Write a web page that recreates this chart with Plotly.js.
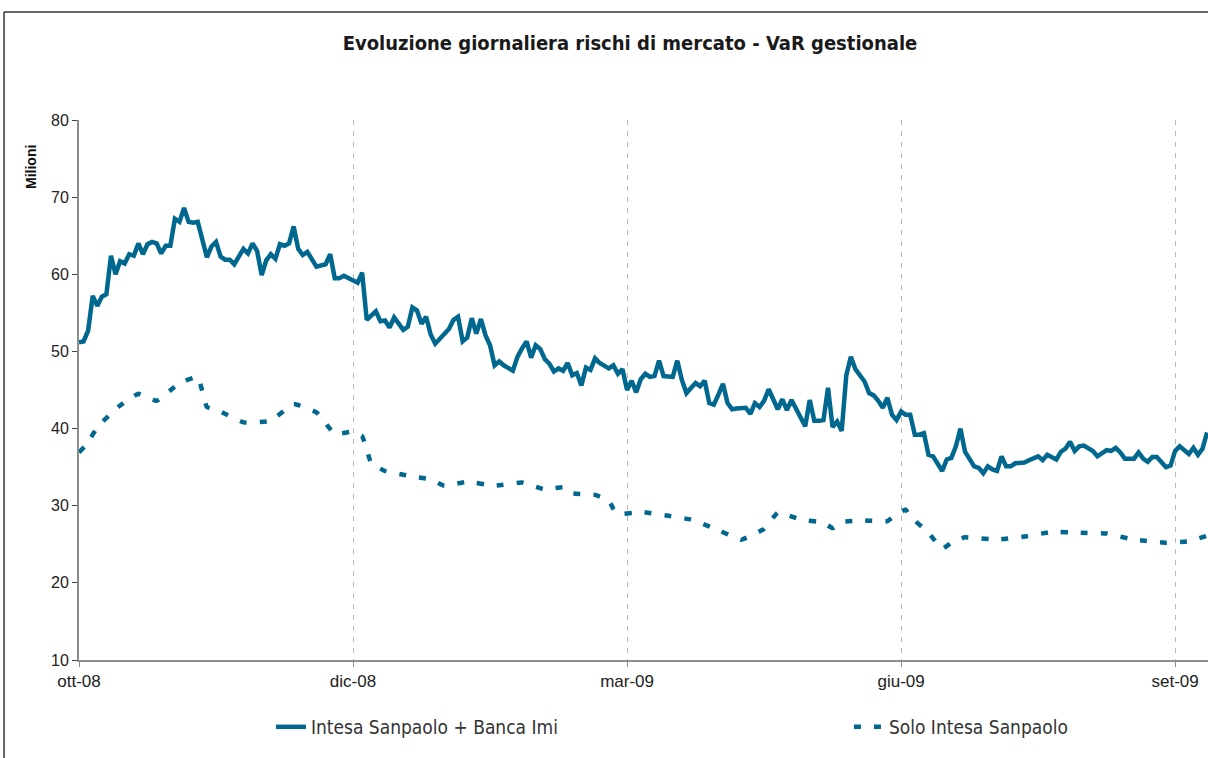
<!DOCTYPE html>
<html>
<head>
<meta charset="utf-8">
<script src="https://cdn.plot.ly/plotly-3.0.1.min.js"></script>
<style>
  html, body { margin: 0; padding: 0; background: #ffffff; }
  #chart { width: 1208px; height: 758px; }
</style>
</head>
<body>
<div id="chart"></div>
<script>
// ---- Data (trading-day index since start of October 2008, VaR in millions) ----
const tickDays = [0, 60, 120, 180, 240];
const tickLabels = ['ott-08', 'dic-08', 'mar-09', 'giu-09', 'set-09'];

const mainName = 'Intesa Sanpaolo + Banca Imi';
const mainDays = [
  0,1,2,3,4,5,6,7,8,9,
  10,11,12,13,14,15,16,17,18,19,
  20,21,22,23,24,25,26,28,29,30,
  31,32,33,34,36,37,38,39,40,41,
  42,43,44,45,46,47,48,49,50,51,
  52,54,55,56,57,58,60,61,62,63,
  65,66,67,68,69,70,71,72,73,74,
  75,76,77,78,79,80,81,82,83,84,
  85,86,87,88,89,90,91,92,93,95,
  96,97,98,99,100,101,102,103,104,105,
  106,107,108,109,110,111,112,113,114,116,
  117,118,119,120,121,122,123,124,125,126,
  127,128,130,131,132,133,134,135,136,137,
  138,139,140,141,142,143,144,146,147,148,
  149,150,151,152,153,154,155,156,157,158,
  159,160,161,162,163,164,165,166,167,168,
  169,170,171,172,173,174,175,176,177,178,
  179,180,181,182,183,184,185,186,187,188,
  189,190,191,192,193,194,195,196,197,198,
  199,200,201,202,203,204,205,207,208,210,
  211,212,214,215,216,217,218,219,220,222,
  223,224,225,226,227,228,229,230,231,232,
  233,234,235,236,238,239,240,241,242,243,
  244,245,246,247
];
const mainVaR = [
  51.2,51.3,52.7,57.2,55.9,57.1,57.4,62.4,60.0,61.7,
  61.4,62.6,62.4,64.0,62.6,63.9,64.2,64.0,62.7,63.7,
  63.7,67.2,66.8,68.6,66.8,66.7,66.8,62.2,63.6,64.2,
  62.3,61.9,61.9,61.3,63.3,62.7,64.0,63.0,59.9,61.8,
  62.6,62.0,63.9,63.7,64.0,66.2,63.3,62.5,62.9,61.9,
  61.0,61.3,62.6,59.5,59.5,59.8,59.2,58.9,60.2,54.1,
  55.2,53.9,54.0,53.1,54.4,53.5,52.8,53.2,55.7,55.3,
  53.6,54.5,52.2,51.0,51.6,52.2,52.9,54.1,54.5,51.3,
  51.8,54.3,52.3,54.2,52.1,50.8,48.2,48.7,48.2,47.5,
  49.3,50.4,51.3,49.2,50.8,50.3,49.0,48.4,47.4,47.8,
  47.5,48.5,46.9,47.2,45.6,47.9,47.6,49.1,48.5,47.8,
  48.2,47.1,47.7,45.0,46.2,44.7,46.4,47.1,46.7,46.8,
  48.8,46.8,46.7,48.8,46.3,44.6,45.2,45.9,45.5,46.2,
  43.3,43.1,44.4,45.8,43.3,42.5,42.6,42.7,41.9,43.3,
  42.8,43.6,45.1,43.7,42.5,43.8,42.4,43.7,42.5,41.3,
  40.3,43.7,41.0,41.0,41.1,45.3,40.2,40.9,39.7,46.9,
  49.3,47.7,46.9,46.1,44.6,44.3,43.6,42.7,44.0,41.8,
  41.1,42.2,41.8,41.8,39.2,39.2,39.4,36.6,36.4,35.4,
  34.5,36.0,36.2,37.7,40.0,37.0,36.1,35.1,34.9,34.2,
  35.1,34.7,34.5,36.4,35.1,35.1,35.5,35.6,35.9,36.4,
  35.9,36.6,36.0,37.0,37.4,38.3,37.1,37.7,37.8,37.1,
  36.4,36.8,37.2,37.1,37.5,36.9,36.1,36.1,36.1,36.9,
  36.1,35.7,36.3,36.3,35.0,35.2,37.1,37.7,37.2,36.7,
  37.5,36.6,37.4,39.5
];

const soloName = 'Solo Intesa Sanpaolo';
const soloDays = [
  0,2,4,9,13,17,22,26,28,31,
  36,42,47,52,56,60,62,64,67,72,
  77,80,85,91,97,102,106,108,113,116,
  117,118,123,129,134,139,145,150,153,158,
  163,165,167,172,177,179,181,182,186,189,
  191,194,201,207,213,219,225,231,238,243,
  247
];
const soloVaR = [
  36.9,38.2,40.2,43.0,44.5,43.6,45.9,46.7,42.8,42.2,
  40.8,41.0,43.2,42.1,39.3,39.6,39.0,35.5,34.5,33.9,
  33.4,32.6,33.1,32.6,33.0,32.1,32.4,31.6,31.4,30.7,
  29.6,28.9,29.2,28.7,28.2,27.1,25.6,27.0,29.1,28.2,
  27.8,27.1,27.9,28.1,28.0,28.9,29.5,28.6,26.5,24.4,
  25.2,25.9,25.6,26.0,26.6,26.5,26.4,25.6,25.2,25.4,
  26.1
];

// ---- Styling ----
const lineColor = '#00688F';
const fontMain = 'Liberation Sans, Arial, sans-serif';
const fontNarrow = 'Liberation Sans Narrow, DejaVu Sans Condensed, Liberation Sans, sans-serif';

const traces = [
  {
    type: 'scatter', mode: 'lines', name: mainName,
    x: mainDays, y: mainVaR,
    line: { color: lineColor, width: 4.5 },
    legendwidth: 533,
    hoverinfo: 'skip'
  },
  {
    type: 'scatter', mode: 'lines', name: soloName,
    x: soloDays, y: soloVaR,
    line: { color: lineColor, width: 4.5, dash: '7px,13px', shape: 'spline', smoothing: 0.3 },
    legendwidth: 190,
    hoverinfo: 'skip'
  }
];

const layout = {
  width: 1208, height: 758,
  paper_bgcolor: '#ffffff', plot_bgcolor: '#ffffff',
  margin: { l: 79, r: 0, t: 120, b: 98, pad: 0 },
  title: {
    text: 'Evoluzione giornaliera rischi di mercato - VaR gestionale',
    font: { family: fontNarrow, size: 20, color: '#1a1a1a', weight: 'bold' },
    x: 0.5215, xref: 'container', xanchor: 'center',
    y: 0.943, yref: 'container', yanchor: 'middle'
  },
  showlegend: true,
  legend: {
    orientation: 'h',
    x: 0.17, xanchor: 'left', xref: 'paper',
    y: -0.124, yanchor: 'middle', yref: 'paper',
    font: { family: fontNarrow, size: 19, color: '#333333' },
    bgcolor: 'rgba(0,0,0,0)'
  },
  xaxis: {
    range: [0, 247.2],
    tickmode: 'array', tickvals: tickDays, ticktext: tickLabels,
    showgrid: true, gridcolor: '#b8b8b8', gridwidth: 1, griddash: '5px,6px',
    zeroline: false,
    showline: true, linecolor: '#8c8c8c', linewidth: 2,
    ticks: 'outside', ticklen: 5, tickcolor: '#8c8c8c', tickwidth: 1,
    tickfont: { family: fontMain, size: 17, color: '#222222' },
    fixedrange: true
  },
  yaxis: {
    range: [10, 80],
    tickmode: 'linear', tick0: 10, dtick: 10,
    showgrid: false, zeroline: false,
    showline: true, linecolor: '#8c8c8c', linewidth: 2,
    ticks: 'outside', ticklen: 5, tickcolor: '#444444', tickwidth: 1,
    tickfont: { family: fontMain, size: 16, color: '#222222' },
    fixedrange: true
  },
  annotations: [
    {
      text: '<b>Milioni</b>', textangle: -90,
      xref: 'paper', yref: 'paper',
      x: -0.0425, y: 0.913, xanchor: 'center', yanchor: 'middle',
      showarrow: false,
      font: { family: fontMain, size: 14, color: '#111111' }
    }
  ],
  shapes: [
    { type: 'line', xref: 'paper', yref: 'paper', x0: -0.0664, x1: 1.0, y0: 1.2, y1: 1.2,
      line: { color: '#333333', width: 1.5 } },
    { type: 'line', xref: 'paper', yref: 'paper', x0: -0.0664, x1: -0.0664, y0: 1.2, y1: -0.1815,
      line: { color: '#333333', width: 1.5 } }
  ]
};

Plotly.newPlot('chart', traces, layout, { displayModeBar: false, responsive: false });
</script>
</body>
</html>
